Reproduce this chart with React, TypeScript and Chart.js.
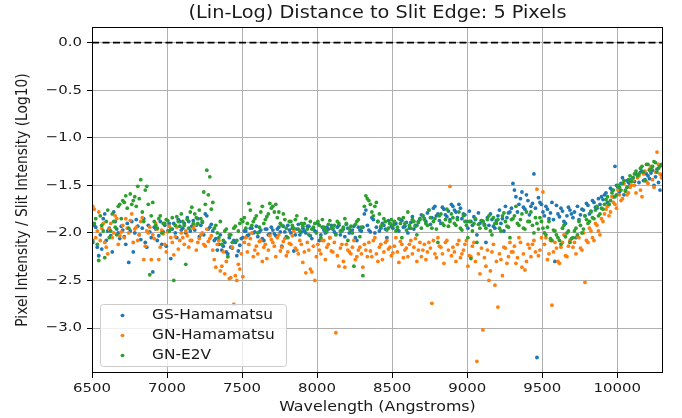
import React, { useEffect, useRef } from "react";
import { Chart, registerables } from "chart.js";

Chart.register(...registerables);

// Sample wavelengths, first pass
const wavelengthsA = [
  6505, 6525, 6545, 6565, 6585, 6605, 6625, 6645, 6665, 6685,
  6705, 6725, 6745, 6765, 6785, 6805, 6825, 6845, 6865, 6885,
  6905, 6925, 6945, 6965, 6985, 7005, 7025, 7045, 7065, 7085,
  7105, 7125, 7145, 7165, 7185, 7205, 7225, 7245, 7265, 7285,
  7305, 7325, 7345, 7365, 7385, 7405, 7425, 7445, 7465, 7485,
  7505, 7525, 7545, 7565, 7585, 7605, 7625, 7645, 7665, 7685,
  7705, 7725, 7745, 7765, 7785, 7805, 7825, 7845, 7865, 7885,
  7905, 7925, 7945, 7965, 7985, 8005, 8025, 8045, 8065, 8085,
  8105, 8125, 8145, 8165, 8185, 8205, 8225, 8245, 8265, 8285,
  8305, 8325, 8345, 8365, 8385, 8405, 8425, 8445, 8465, 8485,
  8505, 8525, 8545, 8565, 8585, 8605, 8625, 8645, 8665, 8685,
  8705, 8725, 8745, 8765, 8785, 8805, 8825, 8845, 8865, 8885,
  8905, 8925, 8945, 8965, 8985, 9005, 9025, 9045, 9065, 9085,
  9105, 9125, 9145, 9165, 9185, 9205, 9225, 9245, 9265, 9285,
  9305, 9325, 9345, 9365, 9385, 9405, 9425, 9445, 9465, 9485,
  9505, 9525, 9545, 9565, 9585, 9605, 9625, 9645, 9665, 9685,
  9705, 9725, 9745, 9765, 9785, 9805, 9825, 9845, 9865, 9885,
  9905, 9925, 9945, 9965, 9985, 10005, 10025, 10045, 10065, 10085,
  10105, 10125, 10145, 10165, 10185, 10205, 10225, 10245, 10265, 10285,
];

// Sample wavelengths, interleaved second pass
const wavelengthsB = [
  6515, 6535, 6555, 6575, 6595, 6615, 6635, 6655, 6675, 6695,
  6715, 6735, 6755, 6775, 6795, 6815, 6835, 6855, 6875, 6895,
  6915, 6935, 6955, 6975, 6995, 7015, 7035, 7055, 7075, 7095,
  7115, 7135, 7155, 7175, 7195, 7215, 7235, 7255, 7275, 7295,
  7315, 7335, 7355, 7375, 7395, 7415, 7435, 7455, 7475, 7495,
  7515, 7535, 7555, 7575, 7595, 7615, 7635, 7655, 7675, 7695,
  7715, 7735, 7755, 7775, 7795, 7815, 7835, 7855, 7875, 7895,
  7915, 7935, 7955, 7975, 7995, 8015, 8035, 8055, 8075, 8095,
  8115, 8135, 8155, 8175, 8195, 8215, 8235, 8255, 8275, 8295,
  8315, 8335, 8355, 8375, 8395, 8415, 8435, 8455, 8475, 8495,
  8515, 8535, 8555, 8575, 8595, 8615, 8635, 8655, 8675, 8695,
  8715, 8735, 8755, 8775, 8795, 8815, 8835, 8855, 8875, 8895,
  8915, 8935, 8955, 8975, 8995, 9015, 9035, 9055, 9075, 9095,
  9115, 9135, 9155, 9175, 9195, 9215, 9235, 9255, 9275, 9295,
  9315, 9335, 9355, 9375, 9395, 9415, 9435, 9455, 9475, 9495,
  9515, 9535, 9555, 9575, 9595, 9615, 9635, 9655, 9675, 9695,
  9715, 9735, 9755, 9775, 9795, 9815, 9835, 9855, 9875, 9895,
  9915, 9935, 9955, 9975, 9995, 10015, 10035, 10055, 10075, 10095,
  10115, 10135, 10155, 10175, 10195, 10215, 10235, 10255, 10275, 10295,
];

const gsHamamatsuA = [
  -2.10, -1.94, -2.24, -2.17, -1.80, -1.98, -2.03, -1.78, -1.96, -2.06,
  -1.97, -2.12, -2.31, -1.88, -2.00, -1.93, -2.07, -1.85, -2.15, -1.99,
  -2.41, -1.96, -2.03, -2.12, -1.92, -1.98, -2.27, -1.90, -2.05, -1.88,
  -1.95, -2.00, -1.88, -1.93, -1.97, -1.85, -1.92, -2.02, -1.82, -1.94,
  -1.98, -2.06, -2.12, -2.18, -2.10, -2.22, -2.15, -2.08, -2.24, -2.13,
  -2.05, -1.98, -2.02, -1.95, -1.99, -2.04, -1.97, -2.08, -1.96, -2.01,
  -1.97, -2.03, -1.94, -2.14, -1.99, -1.92, -2.00, -2.19, -1.96, -2.02,
  -1.95, -2.00, -1.93, -2.06, -1.98, -1.90, -2.02, -1.97, -1.94, -2.05,
  -1.96, -2.01, -1.92, -1.98, -2.04, -1.95, -1.99, -1.93, -2.08, -1.97,
  -1.94, -1.76, -1.97, -1.84, -2.00, -1.88, -1.95, -1.92, -2.05, -1.90,
  -1.95, -1.90, -1.98, -1.87, -1.93, -2.00, -1.89, -1.96, -1.92, -1.85,
  -1.82, -1.88, -1.76, -1.84, -1.72, -1.80, -1.90, -1.75, -1.83, -1.86,
  -1.72, -1.78, -1.70, -1.85, -1.81, -1.95, -1.88, -1.83, -2.02, -1.90,
  -1.88, -2.10, -1.92, -1.86, -1.95, -1.82, -1.90, -1.98, -1.84, -1.78,
  -1.48, -1.62, -1.70, -1.57, -1.75, -1.66, -1.72, -1.38, -3.31, -1.68,
  -1.78, -1.72, -1.85, -1.68, -2.30, -1.80, -1.74, -1.88, -1.82, -1.76,
  -1.84, -2.05, -1.86, -1.75, -1.82, -1.71, -1.77, -1.68, -1.74, -1.70,
  -1.65, -1.58, -1.70, -1.55, -1.30, -1.52, -1.48, -1.60, -1.45, -1.50,
  -1.42, -1.38, -1.47, -1.35, -1.44, -1.40, -1.37, -1.50, -1.33, -1.55,
];

const gsHamamatsuB = [
  -1.92, -2.15, -2.02, -1.85, -2.08, -1.95, -2.20, -1.88, -2.00, -1.93,
  -2.04, -1.90, -1.98, -2.20, -1.86, -2.02, -1.95, -2.10, -1.92, -2.05,
  -1.94, -2.08, -1.88, -1.99, -2.14, -1.90, -1.96, -2.00, -1.86, -1.97,
  -1.90, -1.84, -1.98, -1.87, -1.92, -2.04, -1.89, -1.80, -1.96, -1.91,
  -2.08, -2.18, -2.02, -2.14, -2.20, -2.05, -2.16, -2.10, -2.19, -2.06,
  -1.98, -2.03, -1.95, -2.00, -1.93, -1.99, -2.06, -1.96, -2.02, -1.94,
  -2.01, -1.96, -1.99, -1.93, -2.04, -1.97, -1.95, -2.02, -1.91, -1.99,
  -1.98, -1.93, -2.03, -1.96, -1.99, -2.08, -1.94, -2.00, -1.96, -1.92,
  -1.99, -1.94, -2.02, -1.96, -1.91, -2.00, -1.97, -2.05, -1.94, -1.98,
  -1.80, -1.92, -1.99, -1.86, -1.94, -1.98, -1.90, -1.96, -1.87, -1.93,
  -1.91, -1.97, -1.86, -1.94, -1.89, -1.95, -1.83, -1.92, -1.88, -1.81,
  -1.85, -1.79, -1.91, -1.74, -1.82, -1.87, -1.73, -1.81, -1.77, -1.70,
  -1.76, -1.84, -1.74, -1.80, -1.88, -1.77, -1.92, -1.86, -1.79, -1.87,
  -1.91, -1.84, -1.80, -1.93, -1.87, -1.76, -1.85, -1.72, -1.79, -1.74,
  -1.55, -1.78, -1.64, -1.73, -1.60, -1.81, -1.69, -1.74, -1.63, -1.70,
  -1.82, -1.75, -1.79, -1.86, -1.71, -1.83, -1.77, -1.90, -1.73, -1.80,
  -1.78, -1.72, -1.81, -1.76, -1.69, -1.80, -1.66, -1.73, -1.64, -1.62,
  -1.60, -1.68, -1.53, -1.62, -1.50, -1.57, -1.42, -1.55, -1.47, -1.44,
  -1.46, -1.40, -1.36, -1.45, -1.38, -1.43, -1.34, -1.41, -1.47, -1.39,
];

const gnHamamatsuA = [
  -1.72, -2.05, -1.78, -1.95, -2.10, -2.22, -1.90, -2.00, -1.85, -2.03,
  -1.92, -1.85, -2.00, -1.80, -1.96, -2.08, -1.88, -2.28, -1.98, -1.94,
  -2.02, -1.90, -2.28, -1.97, -2.12, -1.99, -2.05, -2.23, -1.94, -2.08,
  -2.05, -1.98, -2.15, -2.08, -1.92, -2.10, -2.02, -2.12, -1.96, -2.06,
  -2.18, -2.36, -2.08, -2.35, -2.43, -2.25, -2.47, -2.75, -2.50, -2.38,
  -2.46, -2.05, -2.12, -2.00, -2.18, -2.22, -2.08, -2.15, -2.27, -2.03,
  -2.10, -2.25, -2.02, -2.15, -2.06, -2.20, -2.12, -1.98, -2.18, -2.08,
  -2.31, -2.42, -2.18, -2.41, -2.50, -2.12, -2.22, -2.08, -2.15, -2.05,
  -2.20, -3.05, -2.35, -2.12, -2.36, -2.18, -2.22, -2.08, -2.25, -2.15,
  -2.36, -2.18, -2.10, -2.25, -2.05, -2.30, -2.12, -2.20, -2.08, -2.15,
  -2.21, -2.05, -2.31, -2.12, -2.18, -2.25, -2.08, -2.15, -2.30, -2.10,
  -2.18, -2.28, -2.10, -2.74, -2.22, -2.05, -2.15, -2.32, -2.08, -1.51,
  -2.15, -2.30, -2.08, -2.22, -2.12, -2.35, -2.25, -2.10, -3.35, -2.43,
  -3.02, -2.35, -2.50, -2.20, -2.55, -2.78, -2.28, -2.15, -2.32, -2.10,
  -2.20, -2.32, -2.05, -2.36, -2.39, -2.12, -2.25, -2.08, -1.54, -2.18,
  -1.57, -2.05, -2.22, -2.76, -2.10, -2.30, -2.15, -2.02, -2.25, -2.08,
  -2.15, -2.22, -2.05, -2.18, -2.52, -2.10, -1.98, -2.08, -1.92, -2.02,
  -1.88, -1.75, -1.82, -1.62, -1.70, -1.55, -1.66, -1.48, -1.60, -1.52,
  -1.45, -1.58, -1.40, -1.62, -1.35, -1.48, -1.30, -1.52, -1.15, -1.38,
];

const gnHamamatsuB = [
  -1.75, -1.98, -2.08, -1.90, -2.15, -1.96, -2.05, -1.82, -2.12, -1.99,
  -2.05, -1.95, -1.87, -2.10, -1.94, -2.02, -1.84, -2.14, -2.00, -2.28,
  -2.06, -1.96, -2.15, -2.01, -2.20, -1.93, -2.10, -2.04, -2.17, -2.00,
  -2.12, -2.03, -2.08, -1.95, -2.18, -2.06, -2.00, -2.14, -2.09, -2.03,
  -2.28, -2.12, -2.40, -2.20, -2.30, -2.48, -2.15, -2.45, -2.33, -2.22,
  -2.10, -2.20, -2.06, -2.25, -2.14, -2.09, -2.30, -2.12, -2.18, -2.07,
  -2.14, -2.05, -2.19, -2.09, -2.24, -2.11, -2.03, -2.16, -2.22, -2.12,
  -2.20, -2.10, -2.38, -2.14, -2.25, -2.18, -2.08, -2.28, -2.12, -2.19,
  -2.10, -2.24, -2.16, -2.30, -2.12, -2.20, -2.15, -2.28, -2.18, -2.22,
  -2.12, -2.25, -2.19, -2.08, -2.22, -2.15, -2.28, -2.10, -2.17, -2.24,
  -2.14, -2.20, -2.09, -2.26, -2.16, -2.12, -2.22, -2.06, -2.18, -2.25,
  -2.12, -2.20, -2.16, -2.08, -2.26, -2.14, -2.22, -2.10, -2.18, -2.24,
  -2.20, -2.12, -2.26, -2.18, -2.08, -2.24, -2.14, -2.30, -2.22, -2.16,
  -2.26, -2.18, -2.40, -2.12, -2.30, -2.22, -2.45, -2.16, -2.25, -2.20,
  -2.14, -2.26, -2.10, -2.22, -2.30, -2.16, -2.12, -2.20, -2.24, -2.05,
  -2.12, -2.28, -2.08, -2.20, -2.16, -2.32, -2.10, -2.24, -2.14, -2.06,
  -2.10, -2.04, -2.16, -2.00, -2.08, -1.95, -2.05, -1.90, -1.98, -1.85,
  -1.80, -1.72, -1.78, -1.68, -1.74, -1.60, -1.64, -1.56, -1.58, -1.50,
  -1.50, -1.42, -1.55, -1.38, -1.46, -1.33, -1.44, -1.36, -1.28, -1.42,
];

const gnE2VA = [
  -2.08, -1.85, -2.29, -1.92, -2.26, -1.76, -1.98, -1.88, -2.02, -1.70,
  -1.66, -1.61, -1.95, -1.70, -1.62, -1.51, -1.44, -1.88, -1.51, -2.44,
  -1.68, -1.92, -1.85, -2.00, -1.90, -1.87, -1.96, -2.50, -1.83, -1.93,
  -1.88, -2.33, -1.95, -1.73, -1.80, -1.90, -1.85, -1.57, -1.34, -1.41,
  -1.68, -1.92, -2.05, -2.12, -1.98, -2.25, -2.02, -1.95, -2.08, -1.90,
  -1.88, -1.95, -1.69, -1.92, -1.85, -2.00, -1.78, -1.90, -1.83, -1.69,
  -1.72, -1.70, -1.78, -1.92, -1.86, -2.05, -1.88, -1.95, -1.82, -1.98,
  -1.93, -1.85, -2.02, -1.96, -1.90, -1.88, -2.05, -1.94, -1.99, -1.87,
  -1.95, -2.02, -1.90, -1.97, -1.85, -2.08, -1.93, -2.35, -1.88, -2.04,
  -2.45, -1.61, -1.66, -1.78, -1.72, -1.88, -1.93, -1.85, -1.97, -1.90,
  -1.92, -1.98, -1.85, -2.05, -1.90, -1.78, -1.95, -1.88, -2.02, -1.86,
  -1.82, -1.90, -1.76, -1.95, -1.85, -2.10, -1.80, -1.92, -1.75, -1.88,
  -1.84, -1.92, -1.78, -1.97, -1.88, -2.05, -2.27, -1.90, -2.10, -1.95,
  -1.88, -1.95, -1.82, -2.02, -1.90, -1.86, -1.98, -1.79, -1.93, -2.05,
  -1.85, -1.72, -1.92, -1.80, -1.96, -1.88, -1.78, -2.00, -1.90, -1.84,
  -1.95, -2.02, -1.88, -2.08, -1.98, -2.05, -2.12, -1.92, -2.00, -2.10,
  -2.05, -1.95, -1.88, -2.00, -1.82, -1.90, -1.78, -1.85, -1.72, -1.80,
  -1.75, -1.65, -1.70, -1.58, -1.62, -1.50, -1.55, -1.45, -1.52, -1.40,
  -1.42, -1.35, -1.38, -1.30, -1.45, -1.28, -1.33, -1.25, -1.36, -1.30,
];

const gnE2VB = [
  -1.90, -2.12, -1.82, -1.98, -1.88, -2.05, -1.80, -1.94, -1.72, -1.85,
  -1.68, -1.74, -1.59, -1.66, -1.72, -1.64, -1.78, -1.55, -1.70, -1.82,
  -1.88, -1.95, -1.82, -1.90, -1.86, -1.98, -1.84, -1.92, -1.88, -1.80,
  -1.92, -1.86, -1.78, -1.90, -1.84, -1.76, -1.88, -1.70, -1.60, -1.75,
  -1.95, -2.00, -1.88, -2.08, -1.96, -2.02, -2.10, -1.93, -1.98, -1.86,
  -1.84, -1.90, -1.76, -1.88, -1.82, -1.94, -1.72, -1.86, -1.80, -1.74,
  -1.78, -1.84, -1.90, -1.80, -1.95, -1.88, -1.92, -1.86, -1.96, -1.90,
  -1.90, -1.96, -1.88, -1.94, -2.00, -1.92, -1.86, -1.97, -1.91, -1.95,
  -1.92, -1.88, -1.98, -1.94, -1.90, -1.96, -2.00, -1.91, -1.86, -1.94,
  -1.72, -1.64, -1.70, -1.82, -1.68, -1.80, -1.92, -1.88, -1.95, -1.86,
  -1.88, -1.94, -1.90, -1.84, -1.97, -1.92, -1.86, -1.93, -1.89, -1.95,
  -1.86, -1.92, -1.84, -1.88, -1.96, -1.82, -1.90, -1.86, -1.93, -1.80,
  -1.90, -1.86, -1.95, -1.82, -1.92, -1.88, -1.98, -1.85, -1.91, -1.87,
  -1.92, -1.86, -1.98, -1.84, -1.90, -1.95, -1.82, -1.88, -1.94, -1.86,
  -1.82, -1.90, -1.86, -1.95, -1.78, -1.88, -1.92, -1.84, -1.96, -1.88,
  -2.00, -1.94, -2.06, -1.97, -2.02, -2.08, -1.95, -2.04, -1.98, -2.06,
  -1.98, -2.02, -1.92, -1.96, -1.86, -1.88, -1.84, -1.76, -1.82, -1.74,
  -1.70, -1.62, -1.66, -1.55, -1.60, -1.52, -1.48, -1.56, -1.44, -1.46,
  -1.38, -1.40, -1.32, -1.36, -1.28, -1.34, -1.30, -1.26, -1.32, -1.28,
];

const seriesNames = ["GS-Hamamatsu", "GN-Hamamatsu", "GN-E2V"];
const seriesColors = ["#1f77b4", "#ff7f0e", "#2ca02c"];
const xTicks = [6500, 7000, 7500, 8000, 8500, 9000, 9500, 10000];
const yTicks = [0, -0.5, -1.0, -1.5, -2.0, -2.5, -3.0];
const xRange = [6500, 10305];
const yRange = [-3.473, 0.165];
const referenceLevel = 0;
const titleText = "(Lin-Log) Distance to Slit Edge: 5 Pixels";
const xLabel = "Wavelength (Angstroms)";
const yLabel = "Pixel Intensity / Slit Intensity (Log10)";

const SX = 1.15;
const FONT = "'DejaVu Sans', sans-serif";
const TEXT_COLOR = "#1a1a1a";

function drawText(
  ctx: CanvasRenderingContext2D,
  s: string,
  x: number,
  y: number,
  size: number,
  align: CanvasTextAlign,
  rotate = false
) {
  ctx.save();
  ctx.translate(x, y);
  ctx.scale(SX, 1);
  if (rotate) ctx.rotate(-Math.PI / 2);
  ctx.font = `${size}px ${FONT}`;
  ctx.textAlign = align;
  ctx.textBaseline = "middle";
  ctx.fillStyle = TEXT_COLOR;
  ctx.fillText(s, 0, 0);
  ctx.restore();
}

function fmtY(v: number) {
  if (v === 0) return "0.0";
  return (v < 0 ? "\u2212" : "") + Math.abs(v).toFixed(1);
}

const decorPlugin = {
  id: "decor",
  afterDraw(chart: any) {
    const { ctx, chartArea: a, scales } = chart;
    const xs = scales.x;
    const ys = scales.y;
    ctx.save();
    ctx.strokeStyle = "#000";
    ctx.lineWidth = 1;
    ctx.strokeRect(a.left + 0.5, a.top + 0.5, a.right - a.left - 1, a.bottom - a.top - 1);
    ctx.restore();

    drawText(ctx, titleText, (a.left + a.right) / 2, 14, 16.8, "center");
    xTicks.forEach((v) => drawText(ctx, String(v), xs.getPixelForValue(v), 389, 13, "center"));
    yTicks.forEach((v) => drawText(ctx, fmtY(v), 82, ys.getPixelForValue(v), 13, "right"));
    drawText(ctx, xLabel, (a.left + a.right) / 2, 407, 13.8, "center");
    drawText(ctx, yLabel, 23, (a.top + a.bottom) / 2, 13.8, "center", true);

    ctx.save();
    const lx = 100.5, ly = 304.5, lw = 186, lh = 62;
    ctx.beginPath();
    (ctx as any).roundRect(lx, ly, lw, lh, 3);
    ctx.fillStyle = "rgba(255,255,255,0.8)";
    ctx.fill();
    ctx.strokeStyle = "#cccccc";
    ctx.lineWidth = 1;
    ctx.stroke();
    ctx.restore();
    seriesNames.forEach((name, i) => {
      const cy = 315.5 + i * 20;
      ctx.save();
      ctx.beginPath();
      ctx.ellipse(122.5, cy, 2.0, 1.7, 0, 0, Math.PI * 2);
      ctx.fillStyle = seriesColors[i];
      ctx.fill();
      ctx.restore();
      drawText(ctx, name, 152, cy, 13.4, "left");
    });
  },
};

export default function App() {
  const ref = useRef<HTMLCanvasElement | null>(null);

  useEffect(() => {
    if (!ref.current) return;
    const series = [
      [gsHamamatsuA, gsHamamatsuB],
      [gnHamamatsuA, gnHamamatsuB],
      [gnE2VA, gnE2VB],
    ];
    const datasets: any[] = series.map(([va, vb], i) => ({
      type: "scatter",
      label: seriesNames[i],
      data: [
        ...wavelengthsA.map((w, k) => ({ x: w, y: va[k] })),
        ...wavelengthsB.map((w, k) => ({ x: w, y: vb[k] })),
      ],
      backgroundColor: seriesColors[i],
      borderWidth: 0,
      pointRadius: 1.9,
      pointHoverRadius: 1.9,
      order: 3 - i,
    }));
    datasets.push({
      type: "line",
      label: "zero",
      data: [
        { x: xRange[0], y: referenceLevel },
        { x: xRange[1], y: referenceLevel },
      ],
      borderColor: "#000",
      borderWidth: 1.8,
      borderDash: [7, 3.5],
      pointRadius: 0,
      fill: false,
      order: 0,
    });

    const chart = new Chart(ref.current, {
      type: "scatter",
      data: { datasets },
      options: {
        animation: false,
        responsive: false,
        devicePixelRatio: 1,
        events: [],
        layout: { padding: { left: 0, right: 19, top: 27, bottom: 0 } },
        plugins: {
          legend: { display: false },
          title: { display: false },
          tooltip: { enabled: false },
        },
        scales: {
          x: {
            type: "linear",
            min: xRange[0],
            max: xRange[1],
            afterBuildTicks: (s: any) => {
              s.ticks = xTicks.map((v) => ({ value: v }));
            },
            afterFit: (s: any) => {
              s.height = 45;
            },
            ticks: { display: false },
            grid: {
              color: "#b0b0b0",
              lineWidth: 1,
              drawTicks: true,
              tickLength: 5,
              tickColor: "#000",
            },
            border: { display: false },
          },
          y: {
            type: "linear",
            min: yRange[0],
            max: yRange[1],
            afterBuildTicks: (s: any) => {
              s.ticks = yTicks.map((v) => ({ value: v }));
            },
            afterFit: (s: any) => {
              s.width = 92;
            },
            ticks: { display: false },
            grid: {
              color: "#b0b0b0",
              lineWidth: 1,
              drawTicks: true,
              tickLength: 5,
              tickColor: "#000",
            },
            border: { display: false },
          },
        },
      } as any,
      plugins: [decorPlugin],
    });
    return () => chart.destroy();
  }, []);

  return (
    <div style={{ position: "fixed", left: 0, top: 0, width: 682, height: 418, background: "#fff" }}>
      <canvas ref={ref} width={682} height={418} style={{ display: "block" }} />
    </div>
  );
}
